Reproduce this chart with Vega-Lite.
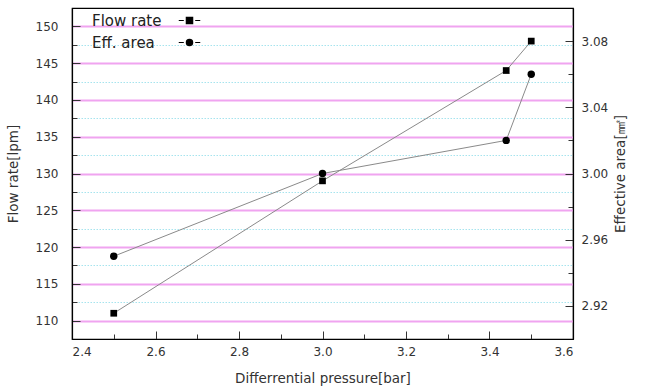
{
  "$schema": "https://vega.github.io/schema/vega-lite/v6.json",
  "width": 501,
  "height": 331,
  "autosize": {"type": "none"},
  "padding": {"left": 72, "top": 8, "right": 82, "bottom": 50},
  "background": "white",
  "config": {
    "font": "DejaVu Sans",
    "view": {"stroke": "black", "strokeWidth": 1.2},
    "axis": {
      "labelFont": "DejaVu Sans",
      "labelFontSize": 12,
      "labelColor": "#333",
      "titleFont": "DejaVu Sans",
      "titleFontSize": 13.5,
      "titleFontWeight": "normal",
      "titleColor": "#333",
      "domainColor": "black",
      "domainWidth": 1.2,
      "tickColor": "#333",
      "labelOverlap": false
    }
  },
  "data": {
    "values": [
      {"pressure": 2.5, "flow": 111, "area": 2.95},
      {"pressure": 3.0, "flow": 129, "area": 3.00},
      {"pressure": 3.44, "flow": 144, "area": 3.02},
      {"pressure": 3.5, "flow": 148, "area": 3.06}
    ]
  },
  "layer": [
    {
      "encoding": {
        "x": {
          "field": "pressure",
          "type": "quantitative",
          "scale": {"domain": [2.4, 3.6], "nice": false, "zero": false},
          "axis": {
            "title": "Differrential pressure[bar]",
            "values": [2.4, 2.5, 2.6, 2.7, 2.8, 2.9, 3.0, 3.1, 3.2, 3.3, 3.4, 3.5, 3.6],
            "format": ".1f",
            "labelExpr": "round(datum.value*10) % 2 === 0 ? datum.label : ''",
            "grid": false,
            "tickSize": {"condition": {"test": "round(datum.value*10) % 2 === 0", "value": -8}, "value": -5},
            "labelPadding": 15,
            "titlePadding": 11
          }
        },
        "y": {
          "field": "flow",
          "type": "quantitative",
          "scale": {"domain": [107.5, 152.5], "nice": false, "zero": false},
          "axis": {
            "title": "Flow rate[lpm]",
            "values": [110, 112.5, 115, 117.5, 120, 122.5, 125, 127.5, 130, 132.5, 135, 137.5, 140, 142.5, 145, 147.5, 150],
            "format": "d",
            "labelExpr": "datum.value % 5 === 0 ? datum.label : ''",
            "grid": true,
            "gridColor": {"condition": {"test": "datum.value % 5 === 0", "value": "#f0a4f0"}, "value": "#a6e4ee"},
            "gridDash": {"condition": {"test": "datum.value % 5 === 0", "value": []}, "value": [1.5, 1.5]},
            "gridWidth": {"condition": {"test": "datum.value % 5 === 0", "value": 2}, "value": 1},
            "gridOpacity": 1,
            "tickSize": {"condition": {"test": "datum.value % 5 === 0", "value": -8}, "value": -5},
            "labelPadding": 22,
            "titlePadding": 15
          }
        }
      },
      "layer": [
        {"mark": {"type": "line", "color": "#8a8a8a", "strokeWidth": 1}},
        {
          "mark": {"type": "point", "shape": "square", "filled": true, "opacity": 1, "size": 45},
          "encoding": {
            "color": {
              "datum": "Flow rate",
              "type": "nominal",
              "scale": {"domain": ["Flow rate", "Eff. area"], "range": ["black", "black"]},
              "legend": {
                "orient": "none",
                "legendX": 20,
                "legendY": 5,
                "title": null,
                "padding": 0,
                "labelFont": "DejaVu Sans",
                "labelFontSize": 15,
                "labelColor": "#222",
                "symbolSize": 40,
                "symbolOffset": 90,
                "labelOffset": -105,
                "rowPadding": 6,
                "symbolFillColor": "black",
                "symbolStrokeColor": "black",
                "symbolStrokeWidth": 1.2,
                "symbolType": {"expr": "datum.value === 'Flow rate' ? 'M-3.4,0H-1.8M1.8,0H3.4M-1,-1H1V1H-1Z' : 'M-3.4,0H-1.8M1.8,0H3.4M1,0A1,1 0 1 1 -1,0A1,1 0 1 1 1,0Z'"}
              }
            }
          }
        }
      ]
    },
    {
      "encoding": {
        "x": {"field": "pressure", "type": "quantitative"},
        "y": {
          "field": "area",
          "type": "quantitative",
          "scale": {"domain": [2.90, 3.10], "nice": false, "zero": false},
          "axis": {
            "orient": "right",
            "title": "Effective area[㎟]",
            "titleAngle": 270,
            "values": [2.92, 2.94, 2.96, 2.98, 3.00, 3.02, 3.04, 3.06, 3.08],
            "format": ".2f",
            "labelExpr": "round(datum.value*100) % 4 === 0 ? datum.label : ''",
            "grid": false,
            "tickSize": {"condition": {"test": "round(datum.value*100) % 4 === 0", "value": -8}, "value": -5},
            "labelPadding": 16,
            "titlePadding": 20
          }
        }
      },
      "layer": [
        {"mark": {"type": "line", "color": "#8a8a8a", "strokeWidth": 1}},
        {
          "mark": {"type": "point", "shape": "circle", "filled": true, "opacity": 1, "size": 55},
          "encoding": {"color": {"datum": "Eff. area", "type": "nominal"}}
        }
      ]
    }
  ],
  "resolve": {"scale": {"y": "independent"}}
}
